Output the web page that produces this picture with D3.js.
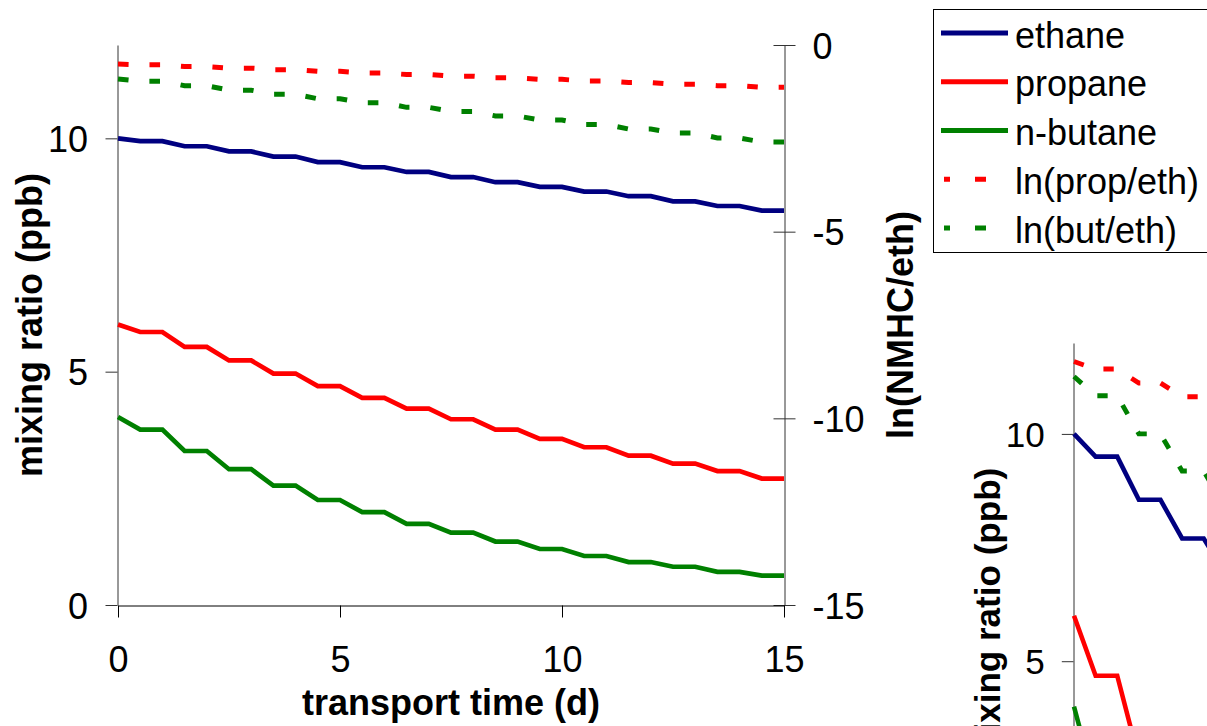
<!DOCTYPE html>
<html><head><meta charset="utf-8">
<script src="https://cdn.jsdelivr.net/npm/d3@7"></script>
<style>
html,body{margin:0;padding:0;background:#fff;overflow:hidden}
svg{display:block}
text{font-family:"Liberation Sans",Arial,Helvetica,sans-serif;fill:#000}
</style></head><body>
<svg id="chart" width="1207" height="726"></svg>
<script>
// ---------- Panel A (left, complete) ----------
const timeA = [0,0.5,1,1.5,2,2.5,3,3.5,4,4.5,5,5.5,6,6.5,7,7.5,8,8.5,9,9.5,10,10.5,11,11.5,12,12.5,13,13.5,14,14.5,15];
const ethaneA = [10,9.94,9.94,9.83,9.83,9.72,9.72,9.61,9.61,9.49,9.49,9.38,9.38,9.28,9.28,9.17,9.17,9.06,9.06,8.96,8.96,8.86,8.86,8.76,8.76,8.65,8.65,8.55,8.55,8.45,8.45];
const propaneA = [6.01,5.85,5.85,5.53,5.53,5.24,5.24,4.96,4.96,4.69,4.69,4.44,4.44,4.21,4.21,3.98,3.98,3.76,3.76,3.56,3.56,3.38,3.38,3.20,3.20,3.03,3.03,2.87,2.87,2.71,2.71];
const butaneA = [4.03,3.76,3.76,3.30,3.30,2.91,2.91,2.56,2.56,2.25,2.25,1.99,1.99,1.74,1.74,1.55,1.55,1.36,1.36,1.20,1.20,1.05,1.05,0.92,0.92,0.82,0.82,0.71,0.71,0.63,0.63];
const lnPropEthA = [-0.51,-0.53,-0.53,-0.575,-0.575,-0.62,-0.62,-0.66,-0.66,-0.705,-0.705,-0.75,-0.75,-0.79,-0.79,-0.835,-0.835,-0.88,-0.88,-0.92,-0.92,-0.965,-0.965,-1.005,-1.005,-1.05,-1.05,-1.09,-1.09,-1.135,-1.135];
const lnButEthA = [-0.91,-0.97,-0.97,-1.09,-1.09,-1.21,-1.21,-1.32,-1.32,-1.44,-1.44,-1.55,-1.55,-1.67,-1.67,-1.78,-1.78,-1.9,-1.9,-2.01,-2.01,-2.13,-2.13,-2.25,-2.25,-2.36,-2.36,-2.49,-2.49,-2.6,-2.6];

// ---------- Panel B (right, cut off by the page edge) ----------
const timeB = [0,0.5,1,1.5,2,2.5,3,3.5,4];
const ethaneB = [10,9.5,9.5,8.55,8.55,7.7,7.7,6.93,6.93];
const propaneB = [6.0,4.68,4.68,2.85,2.85,1.76,1.76,1.08,1.08];
const butaneB = [4.0,2.23,2.23,0.70,0.70,0.23,0.23,0.07,0.07];
const lnPropEthB = [-0.51,-0.716,-0.716,-1.1,-1.1,-1.478,-1.478,-1.86,-1.86];
const lnButEthB = [-0.92,-1.45,-1.45,-2.5,-2.5,-3.52,-3.52,-4.55,-4.55];

// ---------- Axes / labels ----------
const xTicks = [0,5,10,15];
const yLeftTicks = [0,5,10];
const yRightTicks = [-15,-10,-5,0];
const xTitle = "transport time (d)";
const yLeftTitle = "mixing ratio (ppb)";
const yRightTitle = "ln(NMHC/eth)";
const seriesNames = ["ethane","propane","n-butane","ln(prop/eth)","ln(but/eth)"];
const seriesColors = ["#000080","#FF0000","#008000","#FF0000","#008000"];
const seriesDashed = [false,false,false,true,true];
const seriesAxis = ["left","left","left","right","right"];

const svg = d3.select("#chart");
const plainFmt = d => String(d);

function drawPanel(P, time, data, opts) {
  const s = (P.yBot - P.yTop) / 560;
  const x = d3.scaleLinear().domain([0,15]).range([P.x0, P.x1]);
  const yL = d3.scaleLinear().domain([0,12]).range([P.yBot, P.yTop]);
  const yR = d3.scaleLinear().domain([-15,0]).range([P.yBot, P.yTop]);
  const fs = 36 * s;
  const g = svg.append("g");

  // left axis
  const gl = g.append("g").attr("transform", `translate(${P.x0 - 0.5},0)`)
    .call(d3.axisLeft(yL).tickValues(yLeftTicks).tickFormat(plainFmt).tickSize(12*s).tickSizeOuter(0).tickPadding(17.5*s));
  gl.select(".domain").attr("stroke","#333");
  gl.selectAll(".tick line").attr("stroke","#333");
  gl.selectAll(".tick text").attr("font-size", fs).attr("font-family",null).attr("dy", (13*s)+"px");

  if (opts.full) {
    // right axis (cross ticks)
    const gr = g.append("g").attr("transform", `translate(${P.x1 + 0.5},0)`)
      .call(d3.axisRight(yR).tickValues(yRightTicks).tickFormat(plainFmt).tickSize(11*s).tickSizeOuter(0).tickPadding(17*s));
    gr.select(".domain").attr("stroke","#333");
    gr.selectAll(".tick line").attr("stroke","#333").attr("x1", -11*s);
    gr.selectAll(".tick text").attr("font-size", fs).attr("font-family",null).attr("dy", (13*s)+"px");

    // bottom axis
    const gb = g.append("g").attr("transform", `translate(0,${P.yBot + 0.5})`)
      .call(d3.axisBottom(x).tickValues(xTicks).tickFormat(plainFmt).tickSize(12*s).tickSizeOuter(0));
    gb.select(".domain").attr("stroke","#000");
    gb.selectAll(".tick line").attr("stroke","#000");
    gb.selectAll(".tick text").attr("font-size", fs).attr("font-family",null)
      .attr("dy", null).attr("y", 66*s);

    g.append("text").attr("x", (P.x0+P.x1)/2).attr("y", P.yBot + 110*s)
      .attr("text-anchor","middle").attr("font-weight","bold").attr("font-size", fs).text(xTitle);
    g.append("text").attr("transform", `translate(${P.x1 + 129*s},${(P.yTop+P.yBot)/2}) rotate(-90)`)
      .attr("text-anchor","middle").attr("font-weight","bold").attr("font-size", fs).text(yRightTitle);
  }
  g.append("text").attr("transform", `translate(${P.x0 - 76*s},${(P.yTop+P.yBot)/2}) rotate(-90)`)
    .attr("text-anchor","middle").attr("font-weight","bold").attr("font-size", fs).text(yLeftTitle);

  // series
  data.forEach((vals, k) => {
    const yS = seriesAxis[k] === "left" ? yL : yR;
    const line = d3.line().x((d,i) => x(time[i])).y(d => yS(d));
    const p = g.append("path").datum(vals)
      .attr("d", line).attr("fill","none")
      .attr("stroke", seriesColors[k])
      .attr("stroke-width", seriesDashed[k] ? 5*s : 4.7*s)
      .attr("stroke-linejoin","miter");
    if (seriesDashed[k]) p.attr("stroke-dasharray", `${10.6*s},${20.9*s}`);
  });
}

drawPanel({x0:118, x1:784, yTop:45, yBot:605}, timeA,
  [ethaneA, propaneA, butaneA, lnPropEthA, lnButEthA], {full:true});
drawPanel({x0:1074, x1:1074+648.6, yTop:343, yBot:888.5}, timeB,
  [ethaneB, propaneB, butaneB, lnPropEthB, lnButEthB], {full:false});

// legend
const lg = svg.append("g");
lg.append("rect").attr("x",933.5).attr("y",9.5).attr("width",320).attr("height",243)
  .attr("fill","#fff").attr("stroke","#000").attr("stroke-width",1);
const rowY = d3.scalePoint().domain(seriesNames).range([33, 228]);
seriesNames.forEach((name, k) => {
  const yy = rowY(name);
  if (seriesDashed[k]) {
    lg.append("line").attr("x1",944).attr("x2",1008).attr("y1",yy).attr("y2",yy)
      .attr("stroke", seriesColors[k]).attr("stroke-width",5)
      .attr("stroke-dasharray","6,25,11,60");
  } else {
    lg.append("line").attr("x1",941).attr("x2",1008).attr("y1",yy).attr("y2",yy)
      .attr("stroke", seriesColors[k]).attr("stroke-width",5);
  }
  lg.append("text").attr("x",1015).attr("y",yy+14.5).attr("font-size",36).text(name);
});
</script>
</body></html>
